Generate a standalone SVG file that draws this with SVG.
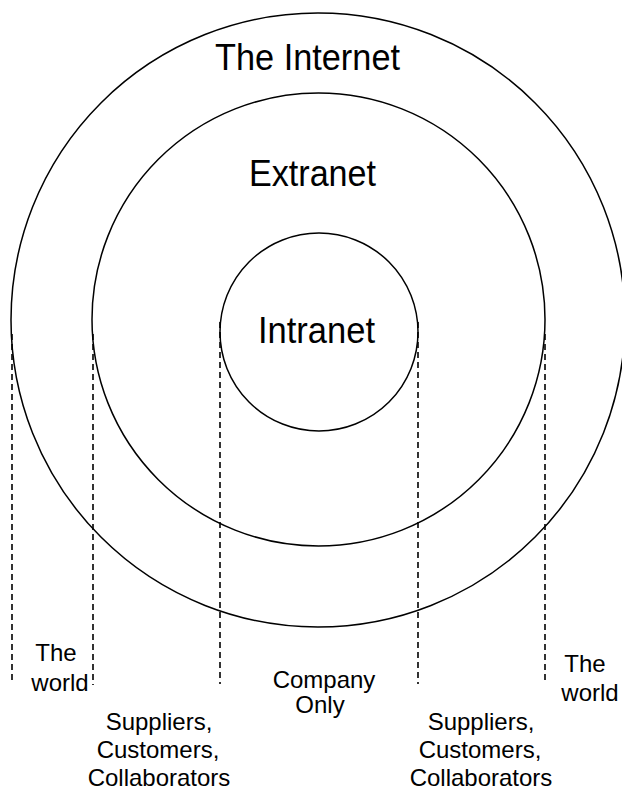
<svg xmlns="http://www.w3.org/2000/svg" width="622" height="792" viewBox="0 0 622 792">
<style>
.ring{fill:none;stroke:#000;stroke-width:1.5}
.dash{fill:none;stroke:#000;stroke-width:1.6;stroke-dasharray:6,4}
.big{font-family:"Liberation Sans",Arial,sans-serif;font-size:37px;fill:#000;text-anchor:middle}
.small{font-family:"Liberation Sans",Arial,sans-serif;font-size:24px;fill:#000;text-anchor:middle}
</style>
<rect width="622" height="792" fill="#fff"/>
<g id="internet">
<circle class="ring" cx="318" cy="320" r="307"/>
<text class="big" x="307.5" y="70" textLength="185" lengthAdjust="spacingAndGlyphs">The Internet</text>
</g>
<g id="extranet">
<circle class="ring" cx="318.5" cy="319.5" r="226.5"/>
<text class="big" x="312.5" y="186" textLength="127" lengthAdjust="spacingAndGlyphs">Extranet</text>
</g>
<g id="intranet">
<circle class="ring" cx="319" cy="332" r="99"/>
<text class="big" x="316.5" y="343" textLength="117" lengthAdjust="spacingAndGlyphs">Intranet</text>
</g>
<g id="connectors">
<line class="dash" x1="12" y1="334" x2="12" y2="684"/>
<line class="dash" x1="93" y1="334" x2="93" y2="685"/>
<line class="dash" x1="220" y1="322" x2="220" y2="684"/>
<line class="dash" x1="418" y1="322" x2="418" y2="684"/>
<line class="dash" x1="545" y1="334" x2="545" y2="682"/>
</g>
<g id="label-world-left">
<text class="small" x="56" y="661">The</text>
<text class="small" x="60" y="691">world</text>
</g>
<g id="label-suppliers-left">
<text class="small" x="159" y="730">Suppliers,</text>
<text class="small" x="158" y="758">Customers,</text>
<text class="small" x="159" y="786">Collaborators</text>
</g>
<g id="label-company">
<text class="small" x="324" y="688">Company</text>
<text class="small" x="320" y="713">Only</text>
</g>
<g id="label-suppliers-right">
<text class="small" x="481" y="730">Suppliers,</text>
<text class="small" x="480" y="758">Customers,</text>
<text class="small" x="481" y="786">Collaborators</text>
</g>
<g id="label-world-right">
<text class="small" x="585" y="672">The</text>
<text class="small" x="590" y="701">world</text>
</g>
</svg>
